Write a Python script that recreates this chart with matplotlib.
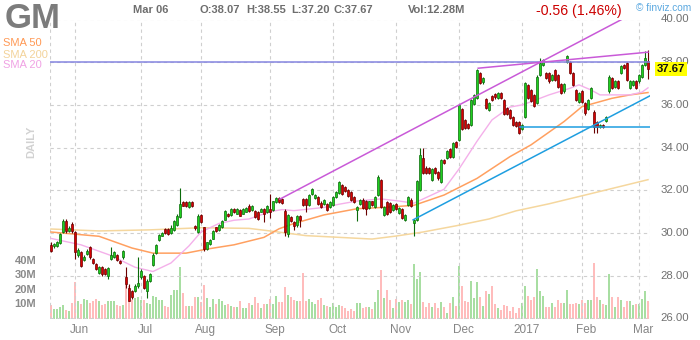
import matplotlib
matplotlib.use('Agg')
import matplotlib.pyplot as plt
import matplotlib.transforms as mtransforms
import numpy as np
import pandas as pd

plt.rcParams['font.family'] = ['Liberation Sans', 'DejaVu Sans']

# ---------------- data ----------------
opens = [29.44, 29.38, 29.40, 29.53, 30.03, 30.55, 30.10, 30.42, 30.03, 28.97,
         29.10, 28.75, 29.00, 29.33, 28.80, 28.55, 28.15, 28.40, 28.30, 27.97,
         28.78, 28.90, 28.97, 28.70, 28.86, 27.92, 27.45, 27.30, 27.30, 27.50,
         27.92, 28.00, 27.30, 27.77, 28.52, 29.06, 29.69, 29.88, 30.19, 30.19,
         30.00, 30.15, 30.40, 30.74, 31.45, 31.45, 31.22, 31.45, 30.35, 30.05,
         30.85, 30.27, 29.24, 29.48, 29.72, 30.27, 30.16, 30.27, 30.63, 30.90,
         30.85, 31.13, 30.90, 31.10, 30.90, 31.00, 31.29, 31.10, 31.05, 30.98,
         31.00, 31.13, 30.98, 31.13, 31.10, 31.45, 31.64, 31.60, 31.05, 29.95,
         30.75, 30.50, 30.36, 30.80, 31.58, 31.58, 31.33, 31.84, 31.64, 31.69,
         31.42, 31.38, 31.38, 31.22, 31.30, 31.69, 31.89, 32.23, 32.15, 32.00,
         31.92, 31.69, 31.06, 31.36, 31.56, 31.50, 31.17, 31.48, 31.22, 31.77,
         32.48, 30.83, 31.45, 31.40, 31.06, 31.35, 30.95, 31.14, 30.60, 31.33,
         31.55, 30.47, 30.60, 32.02, 33.50, 33.06, 33.03, 32.50, 33.03, 32.84,
         32.38, 33.42, 33.53, 33.94, 33.58, 34.25, 34.36, 35.81, 35.30, 35.10,
         35.06, 36.03, 36.31, 37.48, 37.06, 36.28, 35.77, 36.40, 36.50, 36.31,
         36.55, 36.23, 35.84, 35.77, 35.45, 35.22, 35.22, 34.88, 35.45, 36.94,
         36.70, 36.45, 36.08, 37.40, 37.88, 37.48, 37.48, 37.17, 37.64, 37.40,
         36.97, 36.63, 38.03, 38.03, 37.48, 36.70, 36.16, 36.63, 36.08, 35.81,
         36.31, 35.69, 35.22, 34.98, 35.08, 35.25, 36.63, 37.25, 36.86, 37.10,
         37.48, 37.88, 37.95, 36.78, 36.95, 37.10, 37.10, 37.33, 37.88, 38.07]
closes = [29.17, 29.48, 29.56, 29.95, 30.58, 30.10, 30.26, 30.10, 29.10, 29.20,
          28.47, 28.90, 29.17, 28.86, 28.60, 28.31, 28.40, 28.08, 28.10, 28.36,
          28.97, 29.10, 28.75, 28.60, 29.14, 27.60, 26.83, 27.00, 27.53, 27.66,
          28.23, 27.45, 27.77, 28.08, 28.97, 29.44, 29.90, 30.00, 30.00, 29.95,
          30.22, 30.55, 30.82, 31.37, 31.29, 31.25, 31.45, 31.26, 30.22, 30.82,
          30.53, 29.24, 29.56, 29.68, 30.10, 30.10, 30.38, 30.58, 31.05, 30.80,
          31.13, 30.98, 31.13, 30.82, 31.13, 31.17, 31.05, 31.26, 30.74, 30.66,
          31.13, 30.90, 31.29, 30.98, 31.48, 31.64, 31.45, 31.40, 30.03, 30.85,
          30.55, 30.33, 30.80, 30.60, 31.30, 31.30, 31.80, 32.08, 31.80, 31.38,
          31.22, 31.56, 31.10, 31.45, 31.69, 31.92, 32.39, 31.84, 31.95, 31.73,
          31.53, 31.45, 31.22, 31.56, 31.17, 31.14, 31.48, 31.30, 31.69, 32.62,
          31.22, 31.22, 30.90, 30.98, 31.30, 31.14, 31.17, 30.70, 30.86, 31.69,
          31.28, 30.60, 32.44, 33.66, 32.80, 32.80, 32.80, 33.00, 32.80, 32.56,
          33.42, 33.27, 33.84, 33.58, 34.20, 34.05, 36.00, 34.88, 34.90, 34.94,
          36.23, 36.47, 37.64, 37.02, 37.28, 35.84, 36.08, 36.23, 36.35, 36.55,
          36.31, 35.56, 35.56, 35.40, 35.06, 35.03, 34.67, 35.06, 37.02, 36.31,
          36.20, 35.95, 37.33, 37.95, 38.10, 37.25, 37.10, 37.38, 37.17, 36.86,
          36.55, 36.97, 38.27, 37.48, 36.94, 36.23, 36.55, 36.16, 35.60, 36.23,
          36.78, 34.98, 34.98, 35.06, 34.95, 35.45, 37.33, 36.78, 37.13, 36.80,
          37.80, 37.72, 37.17, 37.10, 37.10, 36.80, 37.40, 37.88, 38.19, 37.67]
highs = [29.60, 29.55, 29.65, 30.00, 30.66, 30.65, 30.35, 30.50, 30.10, 29.30,
         29.15, 28.95, 29.25, 29.40, 28.85, 28.60, 28.45, 28.45, 28.35, 28.40,
         29.35, 29.15, 29.00, 28.72, 29.20, 28.40, 27.60, 27.35, 27.60, 28.90,
         28.30, 28.05, 27.85, 28.15, 29.05, 29.50, 29.95, 30.05, 30.25, 30.25,
         30.40, 30.60, 30.90, 32.10, 31.50, 31.50, 31.50, 31.50, 30.40, 30.88,
         30.90, 30.30, 29.60, 29.72, 30.15, 30.30, 30.42, 30.62, 31.10, 30.95,
         31.18, 31.18, 31.18, 31.15, 31.18, 31.22, 31.35, 31.30, 31.10, 31.02,
         31.18, 31.18, 31.33, 31.84, 31.52, 31.68, 31.70, 31.65, 31.13, 30.90,
         30.80, 30.55, 30.85, 30.85, 31.62, 31.62, 31.85, 32.12, 31.85, 31.72,
         31.48, 31.60, 31.42, 31.50, 31.72, 31.97, 32.45, 32.28, 32.20, 32.05,
         31.97, 31.73, 31.28, 31.60, 31.62, 31.55, 31.52, 31.52, 31.74, 32.73,
         32.52, 31.27, 31.50, 31.45, 31.35, 31.40, 31.22, 31.18, 30.90, 31.73,
         31.62, 30.68, 32.50, 33.98, 34.00, 33.12, 33.08, 33.05, 33.08, 32.90,
         33.48, 33.47, 33.88, 33.98, 34.25, 34.30, 36.05, 35.86, 35.35, 35.15,
         36.28, 36.52, 37.70, 37.55, 37.33, 36.33, 36.13, 36.45, 36.55, 36.60,
         36.60, 36.28, 35.89, 35.82, 35.50, 35.27, 35.27, 35.11, 37.07, 36.99,
         36.75, 36.50, 37.38, 38.19, 38.15, 37.53, 37.53, 37.43, 37.69, 37.45,
         37.02, 37.02, 38.35, 38.08, 37.53, 36.75, 36.60, 36.68, 36.13, 36.28,
         36.83, 35.74, 35.27, 35.11, 35.13, 35.50, 37.38, 37.30, 37.18, 37.15,
         37.85, 37.93, 38.00, 37.15, 37.15, 37.15, 37.45, 37.93, 38.53, 38.55]
lows = [29.10, 29.30, 29.35, 29.50, 29.98, 30.00, 30.05, 30.00, 28.80, 28.90,
        28.40, 28.70, 28.95, 28.80, 28.55, 28.25, 28.10, 28.00, 28.05, 27.85,
        28.75, 28.85, 28.70, 28.55, 28.80, 27.45, 26.80, 26.90, 27.25, 27.45,
        27.85, 27.40, 26.95, 27.70, 28.45, 29.00, 29.65, 29.85, 29.95, 29.90,
        29.95, 30.10, 30.35, 30.70, 31.25, 31.20, 31.18, 31.20, 30.15, 30.00,
        30.48, 29.16, 29.20, 29.45, 29.70, 30.05, 30.12, 30.25, 30.60, 30.75,
        30.82, 30.95, 30.88, 30.78, 30.88, 30.97, 31.00, 31.05, 30.70, 30.60,
        30.97, 30.50, 30.95, 30.72, 31.05, 31.40, 31.40, 31.35, 29.85, 29.80,
        30.50, 30.13, 30.30, 30.28, 31.25, 31.00, 31.28, 31.80, 31.60, 31.33,
        31.18, 31.33, 31.05, 31.18, 31.25, 31.65, 31.85, 31.80, 31.90, 31.68,
        31.48, 31.40, 30.55, 31.30, 31.12, 30.86, 31.12, 31.25, 31.18, 31.72,
        31.17, 30.78, 30.85, 30.93, 31.02, 31.10, 30.90, 30.65, 30.55, 31.28,
        31.24, 29.86, 30.55, 31.98, 32.75, 32.75, 32.75, 32.45, 32.75, 32.50,
        32.33, 33.22, 33.48, 33.53, 33.53, 34.00, 34.30, 34.83, 34.85, 34.88,
        35.00, 35.98, 36.26, 36.97, 37.00, 35.79, 35.72, 36.18, 36.30, 36.27,
        36.27, 35.51, 35.51, 35.35, 35.01, 34.98, 34.62, 34.83, 35.40, 36.26,
        36.15, 35.90, 36.03, 37.35, 37.83, 37.20, 37.05, 37.12, 37.12, 36.81,
        36.50, 36.58, 37.98, 37.43, 36.89, 36.18, 36.11, 36.11, 35.55, 35.76,
        36.26, 34.67, 34.67, 34.93, 34.90, 35.20, 36.58, 36.73, 36.81, 36.75,
        37.43, 37.67, 37.12, 36.73, 36.90, 36.75, 37.05, 37.28, 37.83, 37.20]
volumes_m = [9.1, 6.8, 6.4, 8.2, 9.1, 6.0, 5.2, 11.0, 25.7, 12.0,
             9.8, 13.9, 13.2, 11.0, 12.0, 13.6, 12.5, 9.1, 9.8, 12.0,
             12.0, 12.0, 9.1, 8.6, 9.1, 23.4, 22.3, 13.2, 14.3, 15.0,
             13.2, 13.2, 10.5, 9.8, 15.5, 15.0, 13.2, 13.2, 8.6, 8.2,
             16.6, 20.0, 20.0, 36.0, 17.7, 8.6, 8.6, 8.6, 14.8, 14.8,
             11.4, 23.4, 14.0, 8.2, 13.6, 9.8, 13.6, 12.0, 9.1, 9.8,
             8.6, 8.2, 8.2, 12.0, 7.5, 7.5, 10.5, 9.1, 15.0, 10.5,
             7.5, 9.8, 9.8, 13.6, 9.8, 15.5, 11.4, 11.4, 21.8, 16.6,
             15.0, 13.2, 12.0, 12.0, 31.8, 12.0, 13.9, 11.4, 9.8, 13.2,
             14.0, 9.5, 8.6, 8.2, 10.5, 8.2, 9.1, 8.6, 7.5, 5.2,
             6.4, 5.2, 11.0, 10.5, 7.5, 8.2, 8.2, 6.8, 11.4, 19.5,
             33.6, 14.3, 20.0, 12.7, 7.5, 13.6, 11.8, 13.2, 11.8, 12.7,
             9.8, 37.7, 27.3, 32.5, 11.4, 8.2, 11.0, 8.2, 11.0, 7.5,
             11.4, 8.2, 4.0, 10.5, 15.0, 9.0, 36.4, 22.3, 12.0, 11.4,
             26.0, 14.1, 25.5, 14.8, 8.6, 18.9, 17.3, 22.7, 9.8, 7.5,
             5.7, 9.1, 8.6, 5.2, 8.0, 3.6, 7.0, 10.5, 22.7, 15.5,
             12.7, 14.8, 34.3, 18.9, 15.9, 8.0, 8.0, 10.5, 8.0, 13.2,
             10.5, 10.9, 20.0, 9.8, 9.8, 10.5, 9.8, 13.2, 10.5, 13.2,
             13.2, 38.6, 14.8, 13.2, 9.8, 9.1, 31.0, 15.0, 8.2, 15.0,
             13.2, 8.2, 12.5, 12.5, 9.1, 9.8, 9.8, 13.6, 18.9, 12.3]

# moving averages, read at sample bars
sma20_idx = [0, 10, 20, 28, 34, 40, 46, 50, 56, 61, 66, 73, 77, 81, 91, 96, 102,
             110, 116, 121, 131, 136, 142, 147, 153, 157, 160, 166, 173, 176, 180,
             183, 193, 197, 199]
sma20_val = [29.75, 29.45, 28.95, 28.40, 28.20, 28.60, 29.40, 30.05, 30.45, 30.60,
             30.66, 31.00, 31.10, 31.05, 31.20, 31.35, 31.50, 31.60, 31.50, 31.40,
             32.05, 33.00, 34.30, 35.30, 35.90, 36.00, 36.15, 36.47, 36.78, 36.94,
             36.70, 36.47, 36.47, 36.60, 36.80]
sma50_idx = [0, 16, 27, 34, 45, 52, 61, 71, 76, 81, 91, 102, 113, 121, 131, 142,
             153, 160, 171, 177, 187, 193, 199]
sma50_val = [30.05, 29.85, 29.30, 29.06, 29.06, 29.25, 29.45, 29.80, 30.20, 30.45,
             30.85, 31.14, 31.22, 31.30, 31.78, 32.56, 33.58, 34.13, 35.22, 35.92,
             36.31, 36.47, 36.58]
sma200_idx = [0, 16, 33, 50, 66, 73, 85, 107, 115, 124, 135, 146, 155, 166, 183, 199]
sma200_val = [30.19, 30.10, 30.15, 30.25, 30.22, 30.10, 29.88, 29.72, 29.86, 30.05,
              30.34, 30.66, 31.04, 31.37, 31.95, 32.50]

# drawn trend lines: (bar index, price) end points
rise_line = ([76.3, 190.2], [31.59, 40.00])
top_line = ([142.4, 199.0], [37.72, 38.47])
support_line = ([120.7, 199.7], [30.62, 36.43])
level_38 = 38.00
level_35_start = 156.3
level_35 = 34.98

holidays = ['2016-05-30', '2016-07-04', '2016-09-05', '2016-11-24',
            '2016-12-26', '2017-01-02', '2017-01-16', '2017-02-20']
month_labels = ['Jun', 'Jul', 'Aug', 'Sep', 'Oct', 'Nov', 'Dec', '2017', 'Feb', 'Mar']
price_ticks = [26, 28, 30, 32, 34, 36, 38, 40]
vol_ticks = [10, 20, 30, 40]
vol_tick_labels = ['10M', '20M', '30M', '40M']

# ---------------- figure ----------------
W, H = 700, 340
fig = plt.figure(figsize=(7, 3.4), dpi=100, facecolor='white')
rect = [50 / W, (H - 318.5) / H, 600 / W, 299 / H]
axv = fig.add_axes(rect)
ax = fig.add_axes(rect)
ax.set_zorder(2)
axv.set_zorder(1)
ax.patch.set_visible(False)

N = len(closes)
xs = np.arange(N)
xlim = (-1 / 3, N - 1 / 3)
for a in (ax, axv):
    a.set_xlim(*xlim)
    for s in a.spines.values():
        s.set_visible(False)
    a.set_xticks([])
    a.set_yticks([])
ax.set_ylim(26, 40)
axv.set_ylim(0, 208)

dates = pd.bdate_range('2016-05-19', '2017-03-06', freq='C', holidays=holidays)[:N]
months = np.array([d.month for d in dates])
month_starts = [i for i in range(1, len(months)) if months[i] != months[i - 1]]

grid_kw = dict(color='#cfcfcf', lw=0.8, linestyle=(0, (3, 3)), zorder=0)
for p in price_ticks:
    ax.axhline(p, **grid_kw)
for i in month_starts:
    ax.axvline(i, **grid_kw)
ax.axvline(xlim[0], **grid_kw)
ax.axvline(xlim[1], **grid_kw)

# volume bars
o = np.array(opens); c = np.array(closes); h = np.array(highs); l = np.array(lows)
up = c >= o
vcol = np.where(up, '#a8dea2', '#ffbcbc')
axv.bar(xs, volumes_m, width=0.9, color=vcol, linewidth=0, zorder=1)

# moving averages
ax.plot(sma200_idx, sma200_val, color='#f5d79e', lw=1.1, zorder=2)
ax.plot(sma50_idx, sma50_val, color='#ffa060', lw=1.1, zorder=2)
ax.plot(sma20_idx, sma20_val, color='#f4b0ea', lw=1.0, zorder=2)

# candles
edge = np.where(up, '#0a6a0a', '#6a0000')
fill = np.where(up, '#1fd01f', '#d80000')
ax.vlines(xs, l, h, colors=edge, lw=0.8, zorder=4)
body_b = np.minimum(o, c)
body_h = np.maximum(np.abs(c - o), 0.03)
ax.bar(xs, body_h, bottom=body_b, width=0.72, color=fill, edgecolor=edge,
       linewidth=0.5, zorder=5)

# trend lines
ax.axhline(level_38, color='#8585e0', lw=1.1, zorder=6)
ax.plot(*rise_line, color='#c95ad8', lw=1.1, zorder=6)
ax.plot(*top_line, color='#c95ad8', lw=1.1, zorder=6)
ax.plot(*support_line, color='#1e9ee0', lw=1.1, zorder=6)
ax.plot([level_35_start, xlim[1]], [level_35, level_35], color='#1e9ee0', lw=1.1, zorder=6)

# right price labels
trans_r = mtransforms.blended_transform_factory(ax.transAxes, ax.transData)
for p in price_ticks:
    ax.text(1.017, p, f'{p:.2f}', transform=trans_r, ha='left', va='center',
            fontsize=8.2, color='#707070', clip_on=False)
ax.text(1.0117, closes[-1], f'{closes[-1]:.2f}', transform=trans_r, ha='left',
        va='center', fontsize=8.2, color='#111111', fontweight='bold', clip_on=False,
        bbox=dict(boxstyle='square,pad=0.18', facecolor='#ffff00', edgecolor='none'),
        zorder=10)

# left volume labels
trans_v = mtransforms.blended_transform_factory(axv.transAxes, axv.transData)
for v, lab in zip(vol_ticks, vol_tick_labels):
    axv.text(-0.023, v, lab, transform=trans_v, ha='right', va='center',
             fontsize=8, color='#8a8a8a', fontweight='bold', clip_on=False)

# month labels
trans_m = mtransforms.blended_transform_factory(ax.transData, fig.transFigure)
for i, lab in zip(month_starts, month_labels):
    ax.text(i + 1.5, 1 - 330 / H, lab, transform=trans_m, ha='center', va='center',
            fontsize=8.5, color='#858585', clip_on=False)

# header texts
def ft(x, y, s, **kw):
    fig.text(x / W, 1 - y / H, s, **kw)

ft(5, 19, 'GM', fontsize=25, fontweight='bold', color='#7c7c7c', va='center', ha='left')
ft(133, 10, 'Mar 06', fontsize=8, fontweight='bold', color='#6e6e6e', va='center')
ft(200, 10, 'O:38.07', fontsize=8, fontweight='bold', color='#6e6e6e', va='center')
ft(246, 10, 'H:38.55', fontsize=8, fontweight='bold', color='#6e6e6e', va='center')
ft(291, 10, 'L:37.20', fontsize=8, fontweight='bold', color='#6e6e6e', va='center')
ft(334, 10, 'C:37.67', fontsize=8, fontweight='bold', color='#6e6e6e', va='center')
ft(408, 10, 'Vol:12.28M', fontsize=8, fontweight='bold', color='#6e6e6e', va='center')
ft(536, 11, '-0.56 (1.46%)', fontsize=10.2, color='#cc0000', va='center')
ft(636, 8, '\u00a9 finviz.com', fontsize=7.3, color='#5aa8e0', va='center')
ft(3, 43, 'SMA 50', fontsize=8, color='#ff9955', va='center')
ft(3, 54.5, 'SMA 200', fontsize=8, color='#f3d39a', va='center')
ft(3, 65.5, 'SMA 20', fontsize=8, color='#f0a2e4', va='center')
ft(31, 142, 'DAILY', fontsize=8, fontweight='bold', color='#d2d2d2', va='center',
   ha='center', rotation=90)

fig.savefig('out.png', dpi=100, facecolor='white')
